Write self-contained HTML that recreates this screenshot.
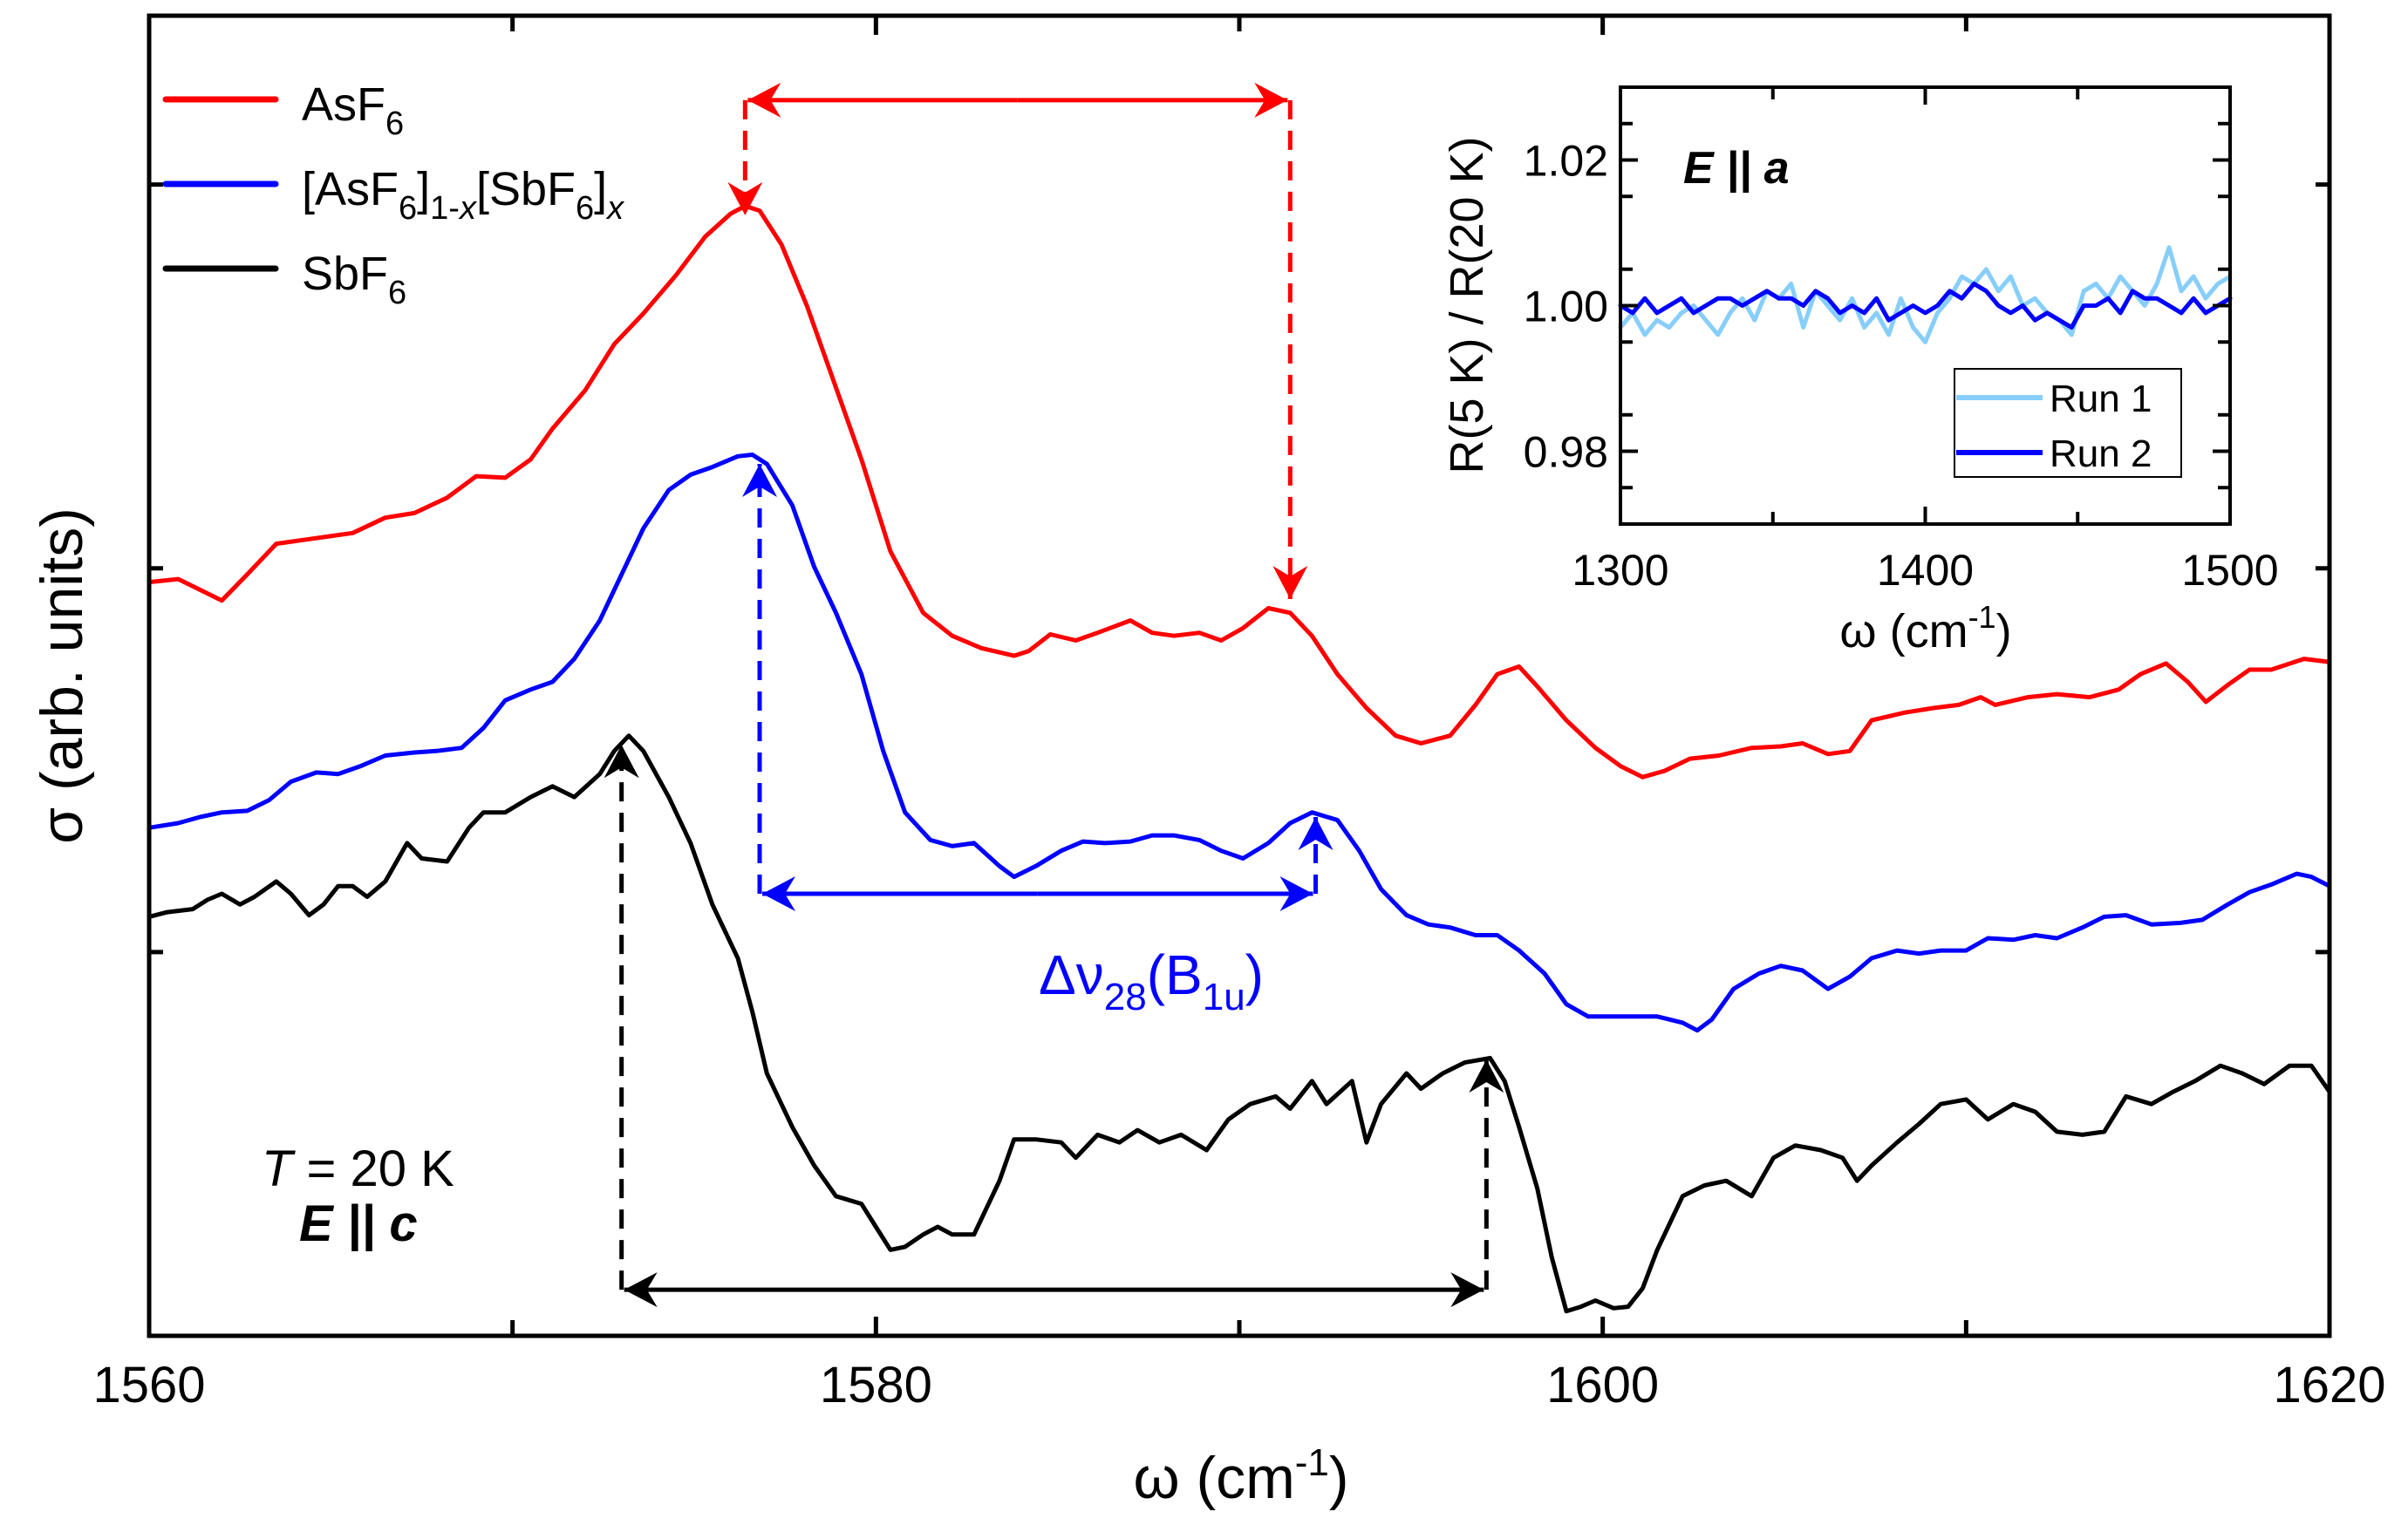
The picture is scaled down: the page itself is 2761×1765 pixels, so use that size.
<!DOCTYPE html>
<html><head><meta charset="utf-8"><style>
html,body{margin:0;padding:0;background:#fff;}
svg{display:block;font-family:"Liberation Sans",Arial,sans-serif;}
</style></head><body>
<svg id="chart" width="2761" height="1765" viewBox="0 0 2761 1765" xmlns="http://www.w3.org/2000/svg">
<defs>
<marker id="ah-red" markerUnits="userSpaceOnUse" markerWidth="44" markerHeight="44" refX="0" refY="0" viewBox="-40 -22 44 44" orient="auto"><path d="M0,0 L-38,-20 L-26,0 L-38,20 Z" fill="#ff0000"/></marker>
<marker id="ah-blue" markerUnits="userSpaceOnUse" markerWidth="44" markerHeight="44" refX="0" refY="0" viewBox="-40 -22 44 44" orient="auto"><path d="M0,0 L-38,-20 L-26,0 L-38,20 Z" fill="#0000ff"/></marker>
<marker id="ah-black" markerUnits="userSpaceOnUse" markerWidth="44" markerHeight="44" refX="0" refY="0" viewBox="-40 -22 44 44" orient="auto"><path d="M0,0 L-38,-20 L-26,0 L-38,20 Z" fill="#000"/></marker>
</defs>
<g id="main"></g>
<g id="inset"></g>
</svg>
<script>
// ---------- main chart data ----------
const xTickLabels = [1560, 1580, 1600, 1620];
const yTicks = [2.5, 5.0, 7.5];
const asfOmega = [1560.0,1560.8,1561.4,1562.0,1562.7,1563.5,1564.4,1565.6,1566.5,1567.3,1568.2,1569.0,1569.8,1570.5,1571.1,1572.0,1572.8,1573.6,1574.5,1575.3,1576.0,1576.4,1576.8,1577.4,1578.1,1578.7,1579.6,1580.4,1581.3,1582.1,1582.9,1583.8,1584.2,1584.8,1585.5,1586.1,1587.0,1587.6,1588.2,1588.9,1589.5,1590.1,1590.8,1591.4,1592.0,1592.7,1593.5,1594.3,1595.0,1595.8,1596.5,1597.1,1597.7,1598.2,1599.0,1599.8,1600.5,1601.1,1601.7,1602.4,1603.2,1604.1,1604.9,1605.5,1606.2,1606.8,1607.4,1608.3,1609.1,1609.8,1610.4,1610.8,1611.7,1612.5,1613.4,1614.2,1614.8,1615.5,1616.1,1616.6,1617.2,1617.8,1618.4,1619.3,1620.0];
const asfSigma = [4.91,4.93,4.86,4.79,4.96,5.16,5.19,5.23,5.33,5.36,5.46,5.60,5.59,5.71,5.91,6.16,6.46,6.66,6.91,7.16,7.31,7.36,7.33,7.11,6.71,6.31,5.71,5.11,4.71,4.56,4.48,4.43,4.46,4.57,4.53,4.58,4.66,4.58,4.56,4.58,4.53,4.61,4.74,4.71,4.56,4.31,4.09,3.91,3.86,3.91,4.11,4.31,4.36,4.23,4.01,3.83,3.71,3.64,3.68,3.76,3.78,3.83,3.84,3.86,3.79,3.81,4.01,4.06,4.09,4.11,4.16,4.11,4.16,4.18,4.16,4.21,4.31,4.38,4.26,4.13,4.24,4.34,4.34,4.41,4.39];
const mixOmega = [1560.0,1560.8,1561.4,1562.0,1562.7,1563.3,1563.9,1564.6,1565.2,1565.8,1566.5,1567.3,1567.9,1568.6,1569.2,1569.8,1570.5,1571.1,1571.7,1572.4,1573.0,1573.6,1574.3,1574.9,1575.5,1576.2,1576.6,1577.0,1577.7,1578.3,1578.9,1579.6,1580.2,1580.8,1581.5,1582.1,1582.7,1583.4,1583.8,1584.4,1585.1,1585.7,1586.3,1587.0,1587.6,1588.2,1588.9,1589.5,1590.1,1590.8,1591.4,1592.0,1592.7,1593.3,1593.9,1594.6,1595.2,1595.8,1596.5,1597.1,1597.7,1598.4,1599.0,1599.6,1600.3,1600.9,1601.5,1602.2,1602.6,1603.0,1603.6,1604.3,1604.9,1605.5,1606.2,1606.8,1607.4,1608.1,1608.7,1609.3,1610.0,1610.6,1611.3,1611.9,1612.5,1613.2,1613.8,1614.4,1615.1,1615.9,1616.5,1617.2,1617.8,1618.4,1619.1,1619.5,1620.0];
const mixSigma = [3.31,3.34,3.38,3.41,3.42,3.49,3.61,3.67,3.66,3.71,3.78,3.80,3.81,3.83,3.96,4.14,4.21,4.26,4.41,4.66,4.96,5.26,5.51,5.61,5.66,5.73,5.74,5.68,5.41,5.01,4.71,4.31,3.81,3.41,3.23,3.19,3.21,3.06,2.99,3.06,3.16,3.22,3.21,3.22,3.26,3.26,3.23,3.16,3.11,3.21,3.34,3.41,3.36,3.16,2.91,2.74,2.68,2.66,2.61,2.61,2.51,2.36,2.16,2.08,2.08,2.08,2.08,2.04,1.99,2.06,2.26,2.36,2.41,2.38,2.26,2.34,2.46,2.51,2.49,2.51,2.51,2.59,2.58,2.61,2.59,2.66,2.73,2.74,2.68,2.69,2.71,2.81,2.89,2.94,3.01,2.99,2.93];
const sbfOmega = [1560.0,1560.5,1561.2,1561.6,1562.0,1562.5,1562.9,1563.5,1563.9,1564.4,1564.8,1565.2,1565.6,1566.0,1566.5,1567.1,1567.5,1568.2,1568.8,1569.2,1569.8,1570.5,1571.1,1571.7,1572.4,1572.8,1573.2,1573.6,1574.3,1574.9,1575.5,1576.2,1576.6,1577.0,1577.7,1578.3,1578.9,1579.6,1580.0,1580.4,1580.8,1581.3,1581.7,1582.1,1582.7,1583.4,1583.8,1584.4,1585.1,1585.5,1586.1,1586.7,1587.2,1587.8,1588.4,1589.1,1589.7,1590.3,1591.0,1591.4,1592.0,1592.4,1593.1,1593.5,1593.9,1594.6,1595.0,1595.6,1596.2,1596.9,1597.3,1597.7,1598.2,1598.6,1599.0,1599.4,1599.8,1600.3,1600.7,1601.1,1601.5,1602.2,1602.8,1603.4,1604.1,1604.7,1605.3,1606.0,1606.6,1607.0,1607.4,1608.1,1608.7,1609.3,1610.0,1610.6,1611.3,1611.9,1612.5,1613.2,1613.8,1614.4,1615.1,1615.7,1616.3,1617.0,1617.6,1618.2,1618.9,1619.5,1620.0];
const sbfSigma = [2.73,2.76,2.78,2.84,2.88,2.81,2.86,2.96,2.88,2.74,2.81,2.93,2.93,2.86,2.96,3.21,3.11,3.09,3.31,3.41,3.41,3.51,3.58,3.51,3.66,3.81,3.91,3.81,3.51,3.21,2.81,2.46,2.11,1.71,1.36,1.11,0.91,0.86,0.71,0.56,0.58,0.66,0.71,0.66,0.66,1.01,1.28,1.28,1.26,1.16,1.31,1.26,1.34,1.26,1.31,1.21,1.41,1.51,1.56,1.48,1.66,1.51,1.66,1.26,1.51,1.71,1.61,1.71,1.78,1.81,1.66,1.36,0.96,0.51,0.16,0.19,0.23,0.18,0.19,0.31,0.56,0.91,0.98,1.01,0.91,1.16,1.24,1.21,1.16,1.01,1.11,1.26,1.38,1.51,1.54,1.41,1.51,1.46,1.33,1.31,1.33,1.56,1.51,1.59,1.66,1.76,1.71,1.64,1.76,1.76,1.59];
// peak markers [omegaA, omegaB, sigmaA, sigmaB, sigmaBar]
const asfPeaks = [1576.4, 1591.4, 7.30, 4.80, 8.05];
const mixPeaks = [1576.8, 1592.1, 5.68, 3.38, 2.88];
const sbfPeaks = [1573.0, 1596.8, 3.85, 1.80, 0.30];

// ---------- inset data ----------
const insetXTicks = [1300, 1400, 1500];
const insetYTicks = [0.98, 1.00, 1.02];
const run1 = [0.997,0.999,0.996,0.998,0.997,0.999,1.000,0.998,0.996,0.999,1.001,0.998,1.002,1.001,1.003,0.997,1.002,1.000,0.998,1.001,0.997,0.999,0.996,1.001,0.997,0.995,0.999,1.001,1.004,1.003,1.005,1.002,1.004,1.000,1.001,0.999,0.998,0.996,1.002,1.003,1.001,1.004,1.002,1.000,1.003,1.008,1.002,1.004,1.001,1.003,1.004];
const run2 = [1.000,0.999,1.001,0.999,1.000,1.001,0.999,1.000,1.001,1.001,1.000,1.001,1.002,1.001,1.001,1.000,1.002,1.001,0.999,1.000,0.999,1.001,0.998,0.999,1.000,0.999,1.000,1.002,1.001,1.003,1.002,1.000,0.999,1.000,0.998,0.999,0.998,0.997,1.000,1.000,1.001,0.999,1.002,1.001,1.001,1.000,0.999,1.001,0.999,1.000,1.001];

const NS = "http://www.w3.org/2000/svg";
function mk(parent, tag, attrs, text){
  const e = document.createElementNS(NS, tag);
  for (const k in attrs) e.setAttribute(k, attrs[k]);
  if (text !== undefined) e.textContent = text;
  parent.appendChild(e);
  return e;
}
const L=171,R=2671,T=18,B=1532;
const X0=1560,X1=1620,Y0=0,Y1=8.6;
const sx = w => L + (w - X0) / (X1 - X0) * (R - L);
const sy = s => B - (s - Y0) / (Y1 - Y0) * (B - T);
const main = document.getElementById('main');

function series(g, xs, ys, color, name, sxf, syf, w){
  const n = Math.min(xs.length, ys.length);
  let d = '';
  for (let i=0;i<n;i++) d += (i?'L':'M') + sxf(xs[i]).toFixed(1) + ',' + syf(ys[i]).toFixed(1);
  const p = mk(g,'path',{d:d,fill:'none',stroke:color,'stroke-width':w,'stroke-linejoin':'round','stroke-linecap':'round'});
  
  
  return p;
}
series(main, asfOmega, asfSigma, '#ff0000', 'asf6-curve', sx, sy, 5);
series(main, mixOmega, mixSigma, '#0000ff', 'mixed-curve', sx, sy, 5);
series(main, sbfOmega, sbfSigma, '#000000', 'sbf6-curve', sx, sy, 5);

function annot(pk, color, marker, name){
  const g = mk(main,'g',{});
  
  
  const xa=sx(pk[0]), xb=sx(pk[1]), ya=sy(pk[2]), yb=sy(pk[3]), yr=sy(pk[4]);
  const dash = {stroke:color,'stroke-width':5,'stroke-dasharray':'22,13',fill:'none','marker-end':'url(#'+marker+')'};
  mk(g,'line',Object.assign({x1:xa,y1:yr,x2:xa,y2:ya},dash));
  mk(g,'line',Object.assign({x1:xb,y1:yr,x2:xb,y2:yb},dash));
  mk(g,'line',{x1:(xa+xb)/2,y1:yr,x2:xa+3,y2:yr,stroke:color,'stroke-width':5,'marker-end':'url(#'+marker+')'});
  mk(g,'line',{x1:(xa+xb)/2,y1:yr,x2:xb-3,y2:yr,stroke:color,'stroke-width':5,'marker-end':'url(#'+marker+')'});
}
annot(asfPeaks,'#ff0000','ah-red','asf6-shift-arrow');
annot(mixPeaks,'#0000ff','ah-blue','mixed-shift-arrow');
annot(sbfPeaks,'#000000','ah-black','sbf6-shift-arrow');

const frame = mk(main,'rect',{x:L,y:T,width:R-L,height:B-T,fill:'none',stroke:'#000','stroke-width':5});


for (let w=1560; w<=1620; w+=10){
  const major = xTickLabels.includes(w);
  const len = major ? 22 : 18;
  mk(main,'line',{x1:sx(w),y1:B,x2:sx(w),y2:B-len,stroke:'#000','stroke-width':5});
  mk(main,'line',{x1:sx(w),y1:T,x2:sx(w),y2:T+len,stroke:'#000','stroke-width':5});
}
xTickLabels.forEach(w=>{
  const t = mk(main,'text',{x:sx(w),y:1608,'font-size':58,'text-anchor':'middle'}, String(w));
  
  
});
yTicks.forEach(v=>{
  mk(main,'line',{x1:L,y1:sy(v),x2:L+16,y2:sy(v),stroke:'#000','stroke-width':5});
  mk(main,'line',{x1:R,y1:sy(v),x2:R-16,y2:sy(v),stroke:'#000','stroke-width':5});
});
</script>
<script>
(function(){
const main = document.getElementById('main');
const html = `
<text x="1423" y="1718" font-size="68" text-anchor="middle">ω (cm<tspan dy="-26" font-size="44">-1</tspan><tspan dy="26">)</tspan></text>
<text x="0" y="0" font-size="68" text-anchor="middle" transform="translate(94,775) rotate(-90)">σ (arb. units)</text>
<g>
 <line x1="190" y1="114" x2="316" y2="114" stroke="#ff0000" stroke-width="7" stroke-linecap="round"/>
 <text x="346" y="138" font-size="54">AsF<tspan dy="16" font-size="38">6</tspan></text>
 <line x1="190" y1="211" x2="316" y2="211" stroke="#0000ff" stroke-width="7" stroke-linecap="round"/>
 <text x="346" y="235" font-size="54">[AsF<tspan dy="16" font-size="38">6</tspan><tspan dy="-16">]</tspan><tspan dy="16" font-size="38">1-<tspan font-style="italic">x</tspan></tspan><tspan dy="-16">[SbF</tspan><tspan dy="16" font-size="38">6</tspan><tspan dy="-16">]</tspan><tspan dy="16" font-size="38" font-style="italic">x</tspan></text>
 <line x1="190" y1="308" x2="316" y2="308" stroke="#000" stroke-width="7" stroke-linecap="round"/>
 <text x="346" y="332" font-size="54">SbF<tspan dy="16" font-size="38">6</tspan></text>
</g>
<text x="1320" y="1140" font-size="64" fill="#0000ff" text-anchor="middle">Δν<tspan dy="18" font-size="44">28</tspan><tspan dy="-18">(B</tspan><tspan dy="18" font-size="44">1u</tspan><tspan dy="-18">)</tspan></text>
<text x="300" y="1360" font-size="58"><tspan font-style="italic">T</tspan> = 20 K</text>
<text x="343" y="1423" font-size="58" font-weight="bold" font-style="italic">E || c</text>
`;
main.insertAdjacentHTML('beforeend', html);
})();
</script>
<script>
const IL=1858, IR=2557, IT=100, IB=601;
const IX0=1300, IX1=1500, IY0=0.970, IY1=1.030;
const isx = w => IL + (w-IX0)/(IX1-IX0)*(IR-IL);
const isy = v => IB - (v-IY0)/(IY1-IY0)*(IB-IT);
const inset = document.getElementById('inset');
const omegaInset = run1.map((_,i)=> IX0 + i*(IX1-IX0)/(run1.length-1));
mk(inset,'rect',{x:IL,y:IT,width:IR-IL,height:IB-IT,fill:'#fff',stroke:'none'});
series(inset, omegaInset, run1, '#87cefa', 'run1-curve', isx, isy, 5);
series(inset, omegaInset, run2, '#0000ff', 'run2-curve', isx, isy, 5);
const ifr = mk(inset,'rect',{x:IL,y:IT,width:IR-IL,height:IB-IT,fill:'none',stroke:'#000','stroke-width':4});


for (let w=1300; w<=1500; w+=50){
  const len = insetXTicks.includes(w) ? 20 : 14;
  mk(inset,'line',{x1:isx(w),y1:IB,x2:isx(w),y2:IB-len,stroke:'#000','stroke-width':4});
  mk(inset,'line',{x1:isx(w),y1:IT,x2:isx(w),y2:IT+len,stroke:'#000','stroke-width':4});
}
for (let k=0;k<=5;k++){
  const v = 0.975 + k*0.01;
  const len = 14;
  if (v > IY1) continue;
  mk(inset,'line',{x1:IL,y1:isy(v),x2:IL+len,y2:isy(v),stroke:'#000','stroke-width':4});
  mk(inset,'line',{x1:IR,y1:isy(v),x2:IR-len,y2:isy(v),stroke:'#000','stroke-width':4});
}
insetYTicks.forEach(v=>{
  mk(inset,'line',{x1:IL,y1:isy(v),x2:IL+20,y2:isy(v),stroke:'#000','stroke-width':4});
  mk(inset,'line',{x1:IR,y1:isy(v),x2:IR-20,y2:isy(v),stroke:'#000','stroke-width':4});
});
insetXTicks.forEach(w=>{
  const t = mk(inset,'text',{x:isx(w),y:IB+70,'font-size':50,'text-anchor':'middle'}, String(w));
  
  
});
insetYTicks.forEach(v=>{
  const t = mk(inset,'text',{x:IL-14,y:isy(v)+18,'font-size':50,'text-anchor':'end'}, v.toFixed(2));
  
  
});
inset.insertAdjacentHTML('beforeend', `
<text x="2208" y="742" font-size="54" text-anchor="middle">ω (cm<tspan dy="-22" font-size="36">-1</tspan><tspan dy="22">)</tspan></text>
<text font-size="54" text-anchor="middle" transform="translate(1700,350) rotate(-90)">R(5 K) / R(20 K)</text>
<text x="1930" y="210" font-size="52" font-weight="bold" font-style="italic">E || a</text>
<g>
<rect x="2241" y="423" width="260" height="124" fill="#fff" stroke="#000" stroke-width="2"/>
<line x1="2243" y1="456" x2="2342" y2="456" stroke="#87cefa" stroke-width="6"/>
<text x="2350" y="472" font-size="44">Run 1</text>
<line x1="2243" y1="519" x2="2342" y2="519" stroke="#0000ff" stroke-width="6"/>
<text x="2350" y="535" font-size="44">Run 2</text>
</g>`);
</script>
</body></html>
